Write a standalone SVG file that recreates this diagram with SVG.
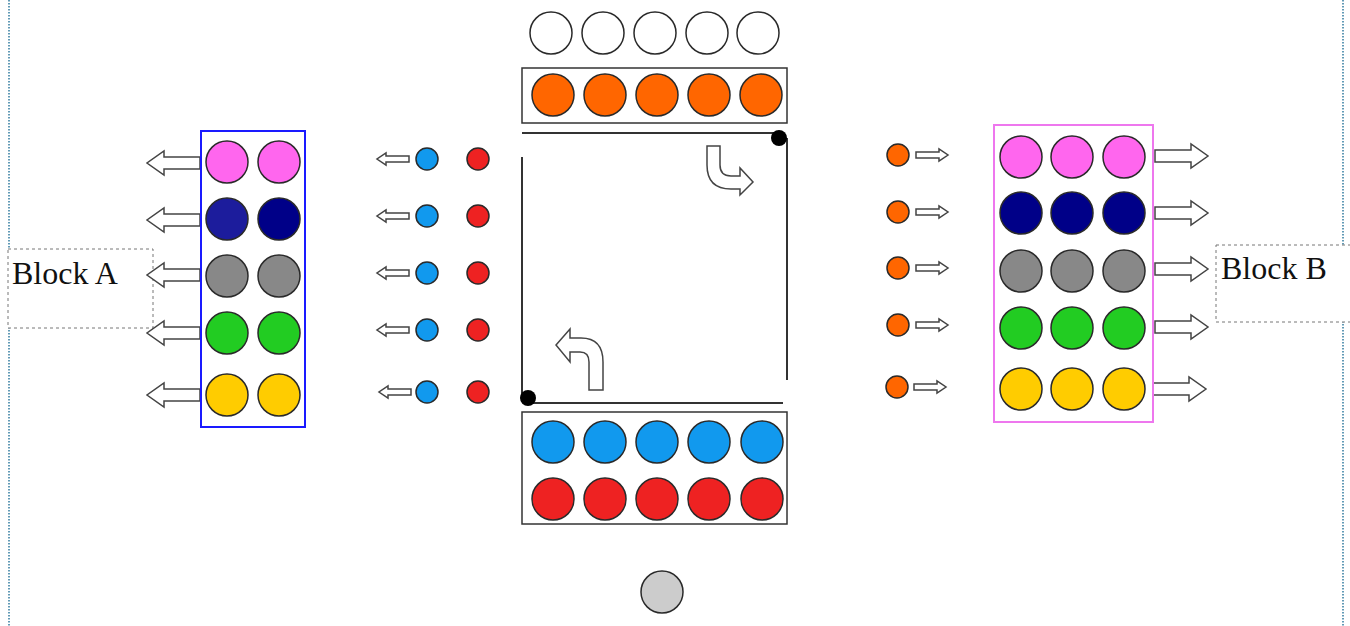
<svg xmlns="http://www.w3.org/2000/svg" xmlns:xlink="http://www.w3.org/1999/xlink" width="1350" height="626" viewBox="0 0 1350 626">
<style>
.c{stroke:#2a2a2a;stroke-width:1.5}
.pk{fill:#ff66ee}.nv1{fill:#1c1c9c}.nv2{fill:#000088}.gy{fill:#888}.gn{fill:#22cc22}.yl{fill:#ffcc00}
.wh{fill:#fff}.or{fill:#ff6600}.bl{fill:#1199ee}.rd{fill:#ee2222}.lg{fill:#cccccc}
.ar{fill:#fff;stroke:#444;stroke-width:1.5;stroke-linejoin:miter}
.box{fill:none;stroke:#333;stroke-width:1.5}
.dash{fill:#fff;stroke:#777;stroke-width:1;stroke-dasharray:3 3}
.border{stroke:#2f7a9e;stroke-width:1.5;stroke-dasharray:1.5 1.5}
.lbl{font-family:"Liberation Serif","Times New Roman",serif;font-size:32px;fill:#111}
.ln{stroke:#333;stroke-width:2}
</style>
<defs>
<polygon id="bigL" points="53,-6 17,-6 17,-12 0,0 17,12 17,6 53,6"/>
<polygon id="bigR" points="0,-6 36,-6 36,-12 53,0 36,12 36,6 0,6"/>
<polygon id="smL" points="32,-3 9,-3 9,-6 0,0 9,6 9,3 32,3"/>
<polygon id="smR" points="0,-3 23,-3 23,-6 32,0 23,6 23,3 0,3"/>
</defs>
<rect width="1350" height="626" fill="#fff"/>
<g id="borders">
<line class="border" x1="9" y1="0" x2="9" y2="626"/>
<line class="border" x1="1343" y1="0" x2="1343" y2="626"/>
</g>
<g id="blockA-label">
<rect class="dash" x="8" y="249" width="145" height="79"/>
<text class="lbl" x="12" y="284">Block A</text>
</g>
<g id="blockB-label">
<rect class="dash" x="1216" y="245" width="140" height="77"/>
<text class="lbl" x="1221" y="279">Block B</text>
</g>
<g id="connectors">
<use href="#bigL" class="ar" x="147" y="163"/>
<use href="#bigL" class="ar" x="147" y="220"/>
<use href="#bigL" class="ar" x="147" y="275"/>
<use href="#bigL" class="ar" x="147" y="333"/>
<use href="#bigL" class="ar" x="147" y="395"/>
<use href="#smL" class="ar" x="377" y="159"/>
<use href="#smL" class="ar" x="377" y="216"/>
<use href="#smL" class="ar" x="377" y="273"/>
<use href="#smL" class="ar" x="377" y="330"/>
<use href="#smL" class="ar" x="379" y="392"/>
<use href="#smR" class="ar" x="916" y="155"/>
<use href="#smR" class="ar" x="916" y="212"/>
<use href="#smR" class="ar" x="916" y="268"/>
<use href="#smR" class="ar" x="916" y="325"/>
<use href="#smR" class="ar" x="914" y="387"/>
<use href="#bigR" class="ar" x="1155" y="156"/>
<use href="#bigR" class="ar" x="1155" y="213"/>
<use href="#bigR" class="ar" x="1155" y="269"/>
<use href="#bigR" class="ar" x="1155" y="327"/>
<use href="#bigR" class="ar" x="1153" y="389"/>
<path class="ar" d="M707,146 L720,146 L720,165 Q720,176 731,176 L740,176 L740,168 L753,182 L740,195 L740,189 L731,189 Q707,189 707,165 Z"/>
<path class="ar" d="M589,390 L603,390 L603,362 Q603,338 581,338 L570,338 L570,329 L556,345 L570,362 L570,352 L580,352 Q589,352 589,362 Z"/>
</g>
<g id="blockA">
<rect x="201" y="131" width="104" height="296" fill="none" stroke="#1a1aff" stroke-width="2"/>
<circle class="c pk" cx="227" cy="162" r="21"/><circle class="c pk" cx="279" cy="162" r="21"/>
<circle class="c nv1" cx="227" cy="219" r="21"/><circle class="c nv2" cx="279" cy="219" r="21"/>
<circle class="c gy" cx="227" cy="276" r="21"/><circle class="c gy" cx="279" cy="276" r="21"/>
<circle class="c gn" cx="227" cy="333" r="21"/><circle class="c gn" cx="279" cy="333" r="21"/>
<circle class="c yl" cx="227" cy="395" r="21"/><circle class="c yl" cx="279" cy="395" r="21"/>
</g>
<g id="left-dots">
<circle class="c bl" cx="427" cy="159" r="11"/><circle class="c rd" cx="478" cy="159" r="11"/>
<circle class="c bl" cx="427" cy="216" r="11"/><circle class="c rd" cx="478" cy="216" r="11"/>
<circle class="c bl" cx="427" cy="273" r="11"/><circle class="c rd" cx="478" cy="273" r="11"/>
<circle class="c bl" cx="427" cy="330" r="11"/><circle class="c rd" cx="478" cy="330" r="11"/>
<circle class="c bl" cx="427" cy="392" r="11"/><circle class="c rd" cx="478" cy="392" r="11"/>
</g>
<g id="top-white">
<circle class="c wh" cx="551" cy="33" r="21"/><circle class="c wh" cx="603" cy="33" r="21"/><circle class="c wh" cx="655" cy="33" r="21"/><circle class="c wh" cx="707" cy="33" r="21"/><circle class="c wh" cx="758" cy="33" r="21"/>
</g>
<g id="top-orange">
<rect class="box" x="522" y="68" width="265" height="55"/>
<circle class="c or" cx="553" cy="95" r="21"/><circle class="c or" cx="605" cy="95" r="21"/><circle class="c or" cx="657" cy="95" r="21"/><circle class="c or" cx="709" cy="95" r="21"/><circle class="c or" cx="761" cy="95" r="21"/>
</g>
<g id="frame">
<line class="ln" x1="522" y1="133" x2="779" y2="133"/>
<line class="ln" x1="787" y1="138" x2="787" y2="380"/>
<line class="ln" x1="522" y1="157" x2="522" y2="398"/>
<line class="ln" x1="528" y1="403" x2="783" y2="403"/>
<circle cx="779" cy="138" r="8" fill="#000"/>
<circle cx="528" cy="398" r="8" fill="#000"/>
</g>
<g id="bottom-box">
<rect class="box" x="522" y="412" width="265" height="112"/>
<circle class="c bl" cx="553" cy="442" r="21"/><circle class="c bl" cx="605" cy="442" r="21"/><circle class="c bl" cx="657" cy="442" r="21"/><circle class="c bl" cx="709" cy="442" r="21"/><circle class="c bl" cx="762" cy="442" r="21"/>
<circle class="c rd" cx="553" cy="499" r="21"/><circle class="c rd" cx="605" cy="499" r="21"/><circle class="c rd" cx="657" cy="499" r="21"/><circle class="c rd" cx="709" cy="499" r="21"/><circle class="c rd" cx="762" cy="499" r="21"/>
</g>
<g id="gray-dot">
<circle class="c lg" cx="662" cy="592" r="21"/>
</g>
<g id="right-dots">
<circle class="c or" cx="898" cy="155" r="11"/>
<circle class="c or" cx="898" cy="212" r="11"/>
<circle class="c or" cx="898" cy="268" r="11"/>
<circle class="c or" cx="898" cy="325" r="11"/>
<circle class="c or" cx="897" cy="387" r="11"/>
</g>
<g id="blockB">
<rect x="994" y="125" width="159" height="297" fill="none" stroke="#ee77ee" stroke-width="2"/>
<circle class="c pk" cx="1021" cy="157" r="21"/><circle class="c pk" cx="1072" cy="157" r="21"/><circle class="c pk" cx="1124" cy="157" r="21"/>
<circle class="c nv2" cx="1021" cy="213" r="21"/><circle class="c nv2" cx="1072" cy="213" r="21"/><circle class="c nv2" cx="1124" cy="213" r="21"/>
<circle class="c gy" cx="1021" cy="271" r="21"/><circle class="c gy" cx="1072" cy="271" r="21"/><circle class="c gy" cx="1124" cy="271" r="21"/>
<circle class="c gn" cx="1021" cy="328" r="21"/><circle class="c gn" cx="1072" cy="328" r="21"/><circle class="c gn" cx="1124" cy="328" r="21"/>
<circle class="c yl" cx="1021" cy="389" r="21"/><circle class="c yl" cx="1072" cy="389" r="21"/><circle class="c yl" cx="1124" cy="389" r="21"/>
</g>
</svg>
